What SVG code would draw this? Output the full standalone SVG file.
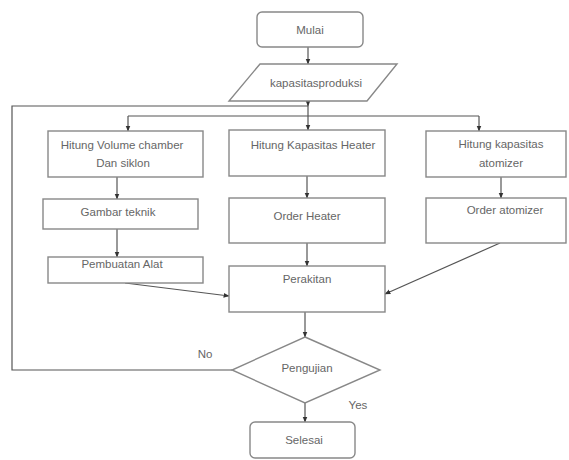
<svg xmlns="http://www.w3.org/2000/svg" width="569" height="460" viewBox="0 0 569 460">
<defs>
<marker id="arr" viewBox="0 0 10 10" refX="9" refY="5" markerWidth="5" markerHeight="5" orient="auto">
<path d="M0,1 L10,5 L0,9 z" fill="#333"/>
</marker>
<style>
.box{fill:#fff;stroke:#888;stroke-width:1.4}
.ln{fill:none;stroke:#555;stroke-width:1.2}
.t{font-family:"Liberation Sans",Arial,sans-serif;font-size:11.5px;fill:#666;text-anchor:middle;dominant-baseline:central}
</style>
</defs>
<rect width="569" height="460" fill="#fff"/>
<g id="connectors">
<line class="ln" x1="308" y1="47" x2="308" y2="64" marker-end="url(#arr)"/>
<line class="ln" x1="308" y1="101" x2="308" y2="106" marker-end="url(#arr)"/>
<line class="ln" x1="308" y1="106" x2="308" y2="116"/>
<path class="ln" d="M232,370 H12 V106 H308"/>
<line class="ln" x1="128" y1="116" x2="479" y2="116"/>
<line class="ln" x1="128" y1="116" x2="128" y2="131" marker-end="url(#arr)"/>
<line class="ln" x1="308" y1="116" x2="308" y2="130" marker-end="url(#arr)"/>
<line class="ln" x1="479" y1="116" x2="479" y2="131" marker-end="url(#arr)"/>
<line class="ln" x1="117" y1="177" x2="117" y2="199" marker-end="url(#arr)"/>
<line class="ln" x1="117" y1="229" x2="117" y2="257" marker-end="url(#arr)"/>
<line class="ln" x1="307" y1="176" x2="307" y2="198" marker-end="url(#arr)"/>
<line class="ln" x1="307" y1="243" x2="307" y2="266" marker-end="url(#arr)"/>
<line class="ln" x1="501" y1="177" x2="501" y2="198" marker-end="url(#arr)"/>
<line class="ln" x1="125" y1="283" x2="229" y2="296" marker-end="url(#arr)"/>
<line class="ln" x1="500" y1="243" x2="385" y2="294" marker-end="url(#arr)"/>
<line class="ln" x1="305" y1="312" x2="305" y2="337" marker-end="url(#arr)"/>
<line class="ln" x1="305" y1="403" x2="305" y2="422" marker-end="url(#arr)"/>
</g>
<g id="mulai">
<rect class="box" x="257" y="12" width="106" height="35" rx="5"/>
<text class="t" x="310" y="30">Mulai</text>
</g>
<g id="kapasitas">
<polygon class="box" points="260,64 397,64 367,101 229,101"/>
<text class="t" x="316" y="83">kapasitasproduksi</text>
</g>
<g id="hitung-volume">
<rect class="box" x="48" y="131" width="155" height="46"/>
<text class="t" x="122" y="145">Hitung Volume chamber</text>
<text class="t" x="123" y="163">Dan siklon</text>
</g>
<g id="hitung-heater">
<rect class="box" x="229" y="130" width="156" height="46"/>
<text class="t" x="313" y="145">Hitung Kapasitas Heater</text>
</g>
<g id="hitung-atomizer">
<rect class="box" x="426" y="131" width="140" height="46"/>
<text class="t" x="501" y="144">Hitung kapasitas</text>
<text class="t" x="501" y="163">atomizer</text>
</g>
<g id="gambar">
<rect class="box" x="43" y="199" width="155" height="30"/>
<text class="t" x="118" y="212">Gambar teknik</text>
</g>
<g id="pembuatan">
<rect class="box" x="48" y="257" width="155" height="26"/>
<text class="t" x="122" y="264">Pembuatan Alat</text>
</g>
<g id="order-heater">
<rect class="box" x="229" y="198" width="156" height="45"/>
<text class="t" x="307" y="216">Order Heater</text>
</g>
<g id="order-atomizer">
<rect class="box" x="426" y="198" width="140" height="45"/>
<text class="t" x="505" y="210">Order atomizer</text>
</g>
<g id="perakitan">
<rect class="box" x="229" y="266" width="156" height="46"/>
<text class="t" x="307" y="279">Perakitan</text>
</g>
<g id="pengujian">
<polygon class="box" points="305,337 380,370 305,403 232,370"/>
<text class="t" x="307" y="368">Pengujian</text>
</g>
<g id="selesai">
<rect class="box" x="250" y="422" width="105" height="36" rx="5"/>
<text class="t" x="304" y="440">Selesai</text>
</g>
<text class="t" x="205" y="354">No</text>
<text class="t" x="358" y="405">Yes</text>
</svg>
